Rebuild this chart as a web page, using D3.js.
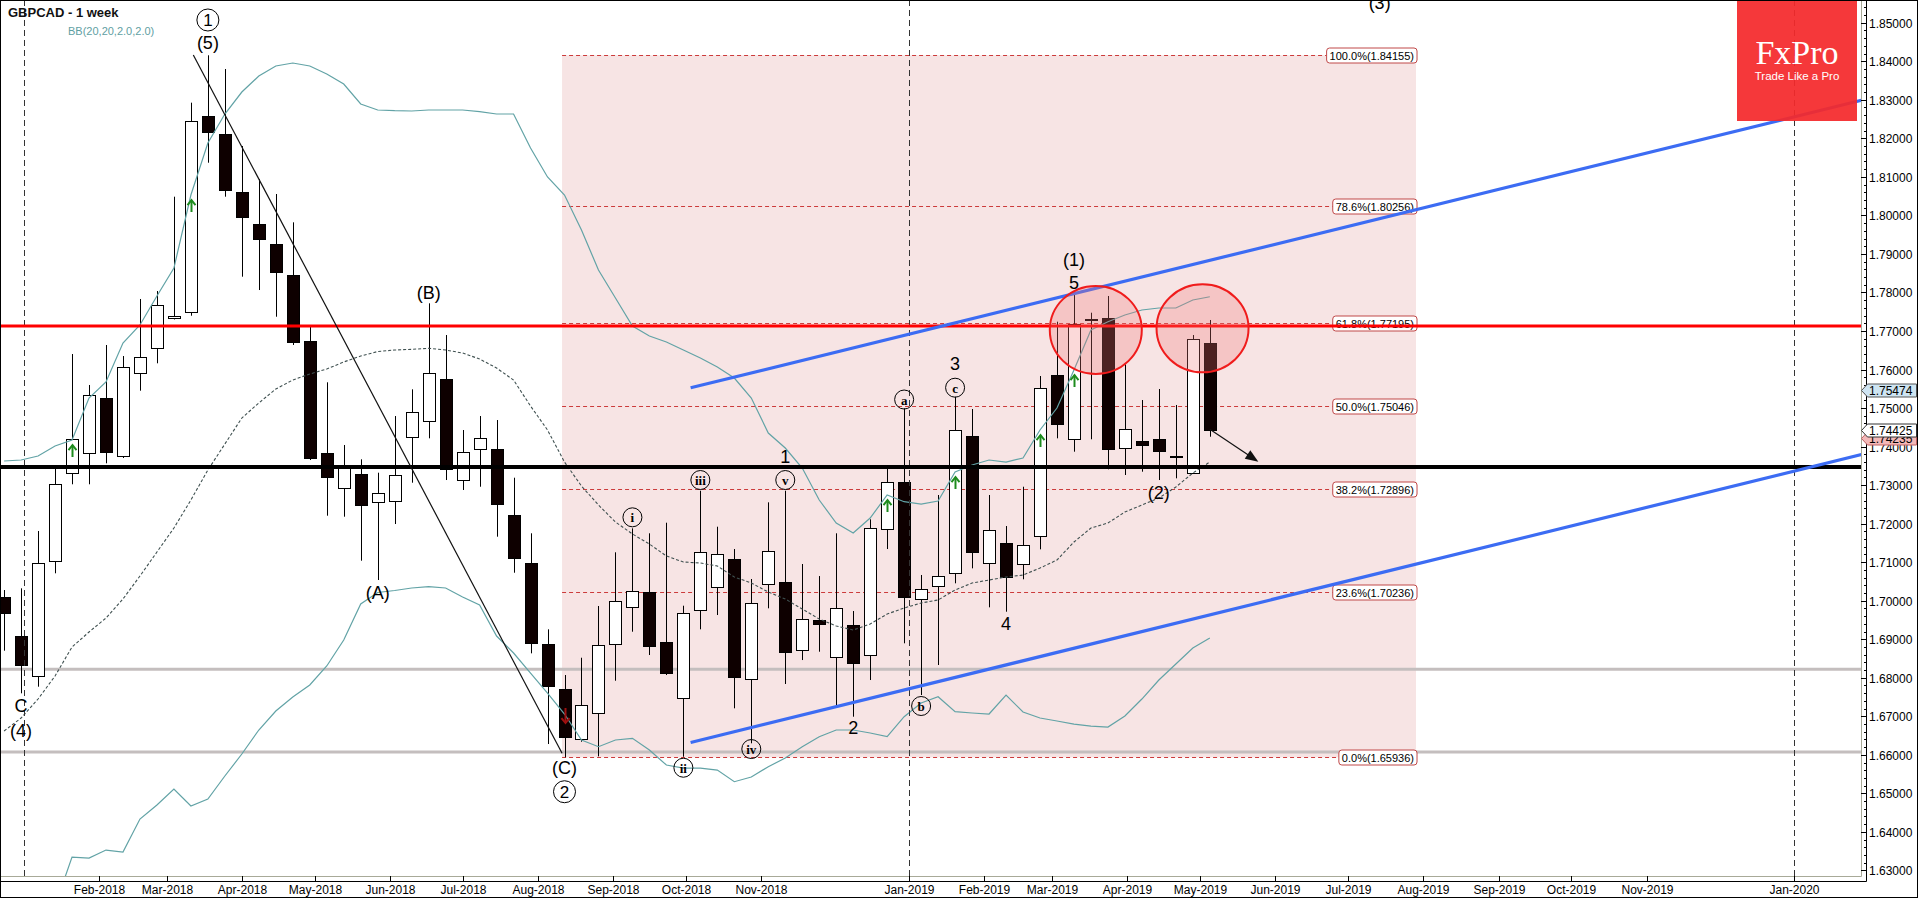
<!DOCTYPE html>
<html><head><meta charset="utf-8">
<script src="https://cdnjs.cloudflare.com/ajax/libs/d3/7.8.5/d3.min.js"></script>
<style>
body{margin:0;background:#fff;}
svg{display:block;}
text{font-family:Arial,"Liberation Sans",sans-serif;}
</style>
</head><body>
<svg id="chart" width="1918" height="898"></svg>
<script>
// ---------------- DATA ----------------
const weeks = ["2017-12-24","2017-12-31","2018-01-07","2018-01-14","2018-01-21","2018-01-28","2018-02-04","2018-02-11","2018-02-18","2018-02-25",
"2018-03-04","2018-03-11","2018-03-18","2018-03-25","2018-04-01","2018-04-08","2018-04-15","2018-04-22","2018-04-29","2018-05-06",
"2018-05-13","2018-05-20","2018-05-27","2018-06-03","2018-06-10","2018-06-17","2018-06-24","2018-07-01","2018-07-08","2018-07-15",
"2018-07-22","2018-07-29","2018-08-05","2018-08-12","2018-08-19","2018-08-26","2018-09-02","2018-09-09","2018-09-16","2018-09-23",
"2018-09-30","2018-10-07","2018-10-14","2018-10-21","2018-10-28","2018-11-04","2018-11-11","2018-11-18","2018-11-25","2018-12-02",
"2018-12-09","2018-12-16","2018-12-23","2018-12-30","2019-01-06","2019-01-13","2019-01-20","2019-01-27","2019-02-03","2019-02-10",
"2019-02-17","2019-02-24","2019-03-03","2019-03-10","2019-03-17","2019-03-24","2019-03-31","2019-04-07","2019-04-14","2019-04-21",
"2019-04-28","2019-05-05"];

const opens = [1.70096,1.69083,1.68045,1.71012,1.73306,1.73825,1.75253,1.73737,1.75901,1.76550,
1.77329,1.77485,1.82579,1.82112,1.80607,1.79776,1.79257,1.78453,1.76740,1.73825,
1.72917,1.73280,1.72553,1.72569,1.74256,1.74645,1.75746,1.73150,1.73955,1.73929,
1.72216,1.70970,1.68868,1.67700,1.66402,1.67077,1.68868,1.69844,1.70233,1.68935,
1.67466,1.69758,1.70347,1.71074,1.67960,1.70451,1.70477,1.68738,1.69499,1.68557,
1.69361,1.68572,1.71853,1.73072,1.70036,1.70381,1.70711,1.74274,1.70970,1.71505,
1.70944,1.71679,1.75857,1.74189,1.77303,1.77329,1.73955,1.74152,1.74196,1.73755,
1.73306,1.76680];
const highs = [1.70277,1.70321,1.71809,1.73436,1.76402,1.75598,1.76636,1.76350,1.77830,1.78037,
1.80485,1.82925,1.84155,1.83799,1.81801,1.80944,1.80555,1.79820,1.77111,1.75668,
1.74041,1.73669,1.73322,1.74793,1.75486,1.77718,1.76895,1.74430,1.74793,1.74689,
1.73192,1.71749,1.69257,1.68071,1.68520,1.69862,1.71256,1.71878,1.71749,1.72024,
1.69870,1.72854,1.71920,1.71341,1.70563,1.72553,1.72854,1.70952,1.70640,1.71749,
1.69732,1.72112,1.73436,1.74993,1.70667,1.72743,1.75294,1.74975,1.72743,1.71938,
1.72958,1.75831,1.77241,1.77952,1.77474,1.77908,1.76135,1.75208,1.75494,1.75079,
1.76895,1.77285];
const lows = [1.68702,1.67596,1.67768,1.70711,1.73021,1.73021,1.73566,1.73703,1.75450,1.76161,
1.77298,1.77396,1.81367,1.80485,1.78409,1.78063,1.77370,1.76636,1.73651,1.72206,
1.72180,1.71038,1.70537,1.71990,1.73062,1.74214,1.73132,1.72873,1.72958,1.71661,
1.70726,1.68634,1.66280,1.65936,1.66340,1.65960,1.67923,1.69195,1.68590,1.68071,
1.65950,1.69257,1.69628,1.67207,1.66299,1.69802,1.67838,1.68460,1.68676,1.67248,
1.66989,1.67941,1.71341,1.68894,1.67552,1.68331,1.70451,1.70840,1.69828,1.69714,
1.70555,1.71333,1.74214,1.73867,1.74189,1.73410,1.73262,1.73348,1.73132,1.73176,
1.73288,1.74256];
const closes = [1.69680,1.68331,1.70970,1.73021,1.74189,1.75338,1.73851,1.76057,1.76317,1.77666,
1.77389,1.82450,1.82172,1.80659,1.79966,1.79395,1.78538,1.76722,1.73695,1.73202,
1.73514,1.72465,1.72787,1.73254,1.74905,1.75901,1.73410,1.73867,1.74230,1.72501,
1.71100,1.68894,1.67785,1.66454,1.67293,1.68850,1.69992,1.70259,1.68832,1.68141,
1.69672,1.71256,1.71204,1.68001,1.69932,1.71297,1.68650,1.69532,1.69387,1.69818,
1.68365,1.71878,1.73072,1.70077,1.70295,1.70648,1.74430,1.71271,1.71834,1.70622,
1.71445,1.75512,1.74578,1.77181,1.77277,1.73929,1.74448,1.74041,1.73893,1.73721,
1.76784,1.74425];

const bbUpper = [1.73625,1.73651,1.73755,1.74015,1.74170,1.75260,1.75676,1.76688,1.77155,1.77908,
1.78634,1.80529,1.81879,1.82631,1.83202,1.83617,1.83877,1.83955,1.83877,1.83669,
1.83410,1.82891,1.82735,1.82717,1.82709,1.82735,1.82735,1.82735,1.82691,1.82631,
1.82631,1.81749,1.80996,1.80529,1.79621,1.78582,1.77856,1.77129,1.76869,1.76714,
1.76506,1.76298,1.76065,1.75779,1.75260,1.74352,1.73963,1.73444,1.72613,1.72016,
1.71757,1.72146,1.72743,1.72569,1.72509,1.72587,1.73340,1.73521,1.73651,1.73599,
1.73703,1.74430,1.75001,1.75987,1.77025,1.77241,1.77414,1.77544,1.77596,1.77596,
1.77804,1.77889];
const bbMiddle = [1.66618,1.66955,1.67448,1.68045,1.68798,1.69187,1.69550,1.70044,1.70640,1.71263,
1.71886,1.72613,1.73392,1.74066,1.74741,1.75131,1.75494,1.75727,1.75883,1.76013,
1.76195,1.76350,1.76467,1.76506,1.76524,1.76550,1.76506,1.76428,1.76273,1.76039,
1.75727,1.75053,1.74430,1.73599,1.72976,1.72483,1.72042,1.71731,1.71471,1.71160,
1.71004,1.70978,1.70900,1.70615,1.70459,1.70225,1.70044,1.69784,1.69524,1.69343,
1.69239,1.69395,1.69654,1.69810,1.69940,1.70018,1.70277,1.70459,1.70537,1.70615,
1.70666,1.70848,1.71056,1.71523,1.71886,1.72016,1.72302,1.72483,1.72665,1.72950,
1.73314,1.73599];
const bbLower = [null,null,null,1.62076,1.63347,1.63321,1.63529,1.63477,1.64334,1.64697,
1.65112,1.64671,1.64853,1.65450,1.66021,1.66644,1.67137,1.67500,1.67812,1.68305,
1.68979,1.69914,1.70212,1.70264,1.70329,1.70363,1.70329,1.70095,1.69888,1.69083,
1.68642,1.68123,1.67604,1.67059,1.66384,1.66210,1.66384,1.66428,1.66124,1.65735,
1.65657,1.65657,1.65605,1.65302,1.65424,1.65691,1.65917,1.66210,1.66470,1.66644,
1.66644,1.66566,1.66470,1.66989,1.67344,1.67508,1.67119,1.67085,1.67059,1.67552,
1.67111,1.66955,1.66877,1.66799,1.66747,1.66721,1.67007,1.67448,1.67941,1.68357,
1.68772,1.69031];

const upSignals = [4, 11, 52, 56, 61, 63];
const downSignals = [33];

const fibStart = "2018-08-11", fibEnd = "2019-07-29";
const fibLevels = [1.84155, 1.80256, 1.77195, 1.75046, 1.72896, 1.70236, 1.65936];
const fibNames  = ["100.0%", "78.6%", "61.8%", "50.0%", "38.2%", "23.6%", "0.0%"];

const redLevel = 1.7713, blackLevel = 1.7347;
const grayLevels = [1.6822, 1.6607];

const upperChannel = [{d:"2018-10-03", p:1.75525}, {d:"2019-07-28", p:1.80132}];
const lowerChannel = [{d:"2018-10-03", p:1.66320}, {d:"2019-07-28", p:1.70934}];
const waveLine = [{d:"2018-03-12", p:1.84163}, {d:"2018-08-11", p:1.66039}];
const forecastArrow = [{d:"2019-05-05", p:1.74448}, {d:"2019-05-25", p:1.73607}];
const highlightCircles = [{d:"2019-03-19", p:1.77025}, {d:"2019-05-02", p:1.77069}];

const waveLabels = [
 {d:"2018-03-18", p:1.84474, t:"(5)"},
 {d:"2018-06-17", p:1.77985, t:"(B)"},
 {d:"2018-05-27", p:1.70199, t:"(A)"},
 {d:"2017-12-31", p:1.67267, t:"C"},
 {d:"2017-12-31", p:1.66618, t:"(4)"},
 {d:"2018-08-12", p:1.65657, t:"(C)"},
 {d:"2018-11-11", p:1.73729, t:"1"},
 {d:"2018-12-09", p:1.66688, t:"2"},
 {d:"2019-01-20", p:1.76143, t:"3"},
 {d:"2019-02-10", p:1.69395, t:"4"},
 {d:"2019-03-10", p:1.78842, t:"(1)"},
 {d:"2019-03-10", p:1.78253, t:"5"},
 {d:"2019-04-14", p:1.72787, t:"(2)"},
 {d:"2019-07-14", p:1.85500, t:"(3)"}
];
const circledBig = [
 {d:"2018-03-18", p:1.85071, t:"1"},
 {d:"2018-08-12", p:1.65042, t:"2"}
];
const circledSmall = [
 {d:"2018-09-09", p:1.72164, t:"i"},
 {d:"2018-09-30", p:1.65665, t:"ii"},
 {d:"2018-10-07", p:1.73132, t:"iii"},
 {d:"2018-10-28", p:1.66150, t:"iv"},
 {d:"2018-11-11", p:1.73132, t:"v"},
 {d:"2018-12-30", p:1.75221, t:"a"},
 {d:"2019-01-06", p:1.67267, t:"b"},
 {d:"2019-01-20", p:1.75528, t:"c"}
];

const yTicks = [1.63,1.64,1.65,1.66,1.67,1.68,1.69,1.70,1.71,1.72,1.73,1.74,1.75,1.76,1.77,1.78,1.79,1.80,1.81,1.82,1.83,1.84,1.85];
const monthTicks = ["2018-02-01","2018-03-01","2018-04-01","2018-05-01","2018-06-01","2018-07-01","2018-08-01","2018-09-01","2018-10-01","2018-11-01",
"2019-01-01","2019-02-01","2019-03-01","2019-04-01","2019-05-01","2019-06-01","2019-07-01","2019-08-01","2019-09-01","2019-10-01","2019-11-01","2020-01-01"];
const yearLines = ["2018-01-01","2019-01-01","2020-01-01"];
const priceTags = [
 {v:1.75474, fill:"#cfe5f2", stroke:"#555"},
 {v:1.74235, fill:"#f3b8b8", stroke:"#c06060"},
 {v:1.74425, fill:"#ffffff", stroke:"#333"}
];

// ---------------- LAYOUT ----------------
const PR = 1861, PB = 876;
const parse = d3.utcParse("%Y-%m-%d");
const x = d3.scaleUtc()
  .domain([new Date(Date.UTC(2017,11,22,7,30)), new Date(Date.UTC(2020,0,28,10,0))])
  .range([0, PR]);
const y = d3.scaleLinear().domain([1.62855, 1.85538]).range([PB, 2]);

const svg = d3.select("#chart");
svg.append("rect").attr("width",1918).attr("height",898).attr("fill","#fff");
const defs = svg.append("defs");
defs.append("clipPath").attr("id","pc")
  .append("rect").attr("x",0).attr("y",0).attr("width",PR).attr("height",PB);
const g = svg.append("g").attr("clip-path","url(#pc)");

// Fibonacci rectangle
const fx0 = x(parse(fibStart)), fx1 = x(parse(fibEnd));
g.append("rect").attr("x",fx0).attr("y",y(fibLevels[0]))
  .attr("width",fx1-fx0).attr("height",y(fibLevels[6])-y(fibLevels[0]))
  .attr("fill","#f7e4e4");

// gray horizontal lines
grayLevels.forEach(v=>{
  g.append("line").attr("x1",0).attr("x2",PR).attr("y1",y(v)).attr("y2",y(v))
   .attr("stroke","#c4bebe").attr("stroke-width",3);
});

// Fib dashed lines + labels
const fibG = g.append("g");
fibLevels.forEach((v,i)=>{
  const yy = Math.round(y(v))+0.5;
  const label = fibG.append("text").attr("font-size",11).attr("fill","#000")
    .attr("dominant-baseline","central").attr("y",yy)
    .text(fibNames[i]+"("+v.toFixed(5)+")");
  const tw = label.node().getComputedTextLength();
  const bx = fx1 + 1 - tw - 6;
  label.attr("x", bx+3);
  fibG.insert("line","text").attr("x1",fx0).attr("x2",bx).attr("y1",yy).attr("y2",yy)
    .attr("stroke","#cc3b3b").attr("stroke-dasharray","4,3").attr("stroke-width",1);
  fibG.insert("rect","text").attr("x",bx).attr("y",yy-7.5).attr("width",tw+6).attr("height",15)
    .attr("rx",3).attr("fill","#fff").attr("stroke","#c04848");
});

// Candles
const candles = weeks.map((w,i)=>({date:parse(w),o:opens[i],h:highs[i],l:lows[i],c:closes[i]}));
const cg = g.append("g");
candles.forEach(d=>{
  const cx = Math.round(x(d.date));
  cg.append("line").attr("x1",cx+0.5).attr("x2",cx+0.5).attr("y1",y(d.h)).attr("y2",y(d.l))
    .attr("stroke","#000").attr("stroke-width",1);
  const top = y(Math.max(d.o,d.c)), bot = y(Math.min(d.o,d.c));
  cg.append("rect").attr("x",cx-5.5).attr("y",Math.round(top)+0.5)
    .attr("width",12).attr("height",Math.max(Math.round(bot-top),1))
    .attr("fill", d.c>=d.o ? "#fff" : "#0e0000").attr("stroke","#000").attr("stroke-width",1);
});

// Bollinger bands
const bbLine = d3.line().defined(d=>d.v!=null).x(d=>x(d.date)).y(d=>y(d.v));
const mk = arr => arr.map((v,i)=>({date:parse(weeks[i]), v}));
g.append("path").attr("d",bbLine(mk(bbUpper))).attr("fill","none").attr("stroke","#62a3a6").attr("stroke-width",1.2);
g.append("path").attr("d",bbLine(mk(bbLower))).attr("fill","none").attr("stroke","#62a3a6").attr("stroke-width",1.2);
g.append("path").attr("d",bbLine(mk(bbMiddle))).attr("fill","none").attr("stroke","#3f5050").attr("stroke-width",1.1).attr("stroke-dasharray","3,2");

// BB signal arrows
function arrow(cx, y1, y2, color){
  const dir = y2 > y1 ? 1 : -1;
  g.append("line").attr("x1",cx).attr("x2",cx).attr("y1",y1).attr("y2",y2).attr("stroke",color).attr("stroke-width",2);
  g.append("path").attr("d",`M${cx-4},${y2-dir*5}L${cx},${y2}L${cx+4},${y2-dir*5}`)
    .attr("fill","none").attr("stroke",color).attr("stroke-width",2);
}
upSignals.forEach(i=>{
  const cx = Math.round(x(parse(weeks[i])))+0.5, by = y(bbUpper[i]);
  arrow(cx, by+17, by+5, "#1e8c1e");
});
downSignals.forEach(i=>{
  const cx = Math.round(x(parse(weeks[i])))+0.5, by = y(bbLower[i]);
  arrow(cx, by-6, by+9, "#a01010");
});

// vertical dashed year lines
yearLines.forEach(s=>{
  const xx = Math.round(x(parse(s)))+0.5;
  g.append("line").attr("x1",xx).attr("x2",xx).attr("y1",0).attr("y2",PB)
   .attr("stroke","#333").attr("stroke-dasharray","6,4");
});

// horizontal key levels
g.append("line").attr("x1",0).attr("x2",PR).attr("y1",y(blackLevel)).attr("y2",y(blackLevel)).attr("stroke","#000").attr("stroke-width",4);
g.append("line").attr("x1",0).attr("x2",PR).attr("y1",y(redLevel)).attr("y2",y(redLevel)).attr("stroke","#ff0000").attr("stroke-width",3);

// wave diagonal
g.append("line")
  .attr("x1",x(parse(waveLine[0].d))).attr("y1",y(waveLine[0].p))
  .attr("x2",x(parse(waveLine[1].d))).attr("y2",y(waveLine[1].p))
  .attr("stroke","#111").attr("stroke-width",1.2);

// channel rays
function ray(pts){
  const x0 = x(parse(pts[0].d)), y0 = y(pts[0].p), x1 = x(parse(pts[1].d)), y1 = y(pts[1].p);
  const k = (y1-y0)/(x1-x0);
  g.append("line").attr("x1",x0).attr("y1",y0).attr("x2",PR+60).attr("y2",y0+k*(PR+60-x0))
   .attr("stroke","#3c6cf3").attr("stroke-width",3.2);
}
ray(upperChannel); ray(lowerChannel);

// red highlight circles
highlightCircles.forEach(c=>{
  g.append("ellipse").attr("cx",x(parse(c.d))).attr("cy",y(c.p)).attr("rx",46).attr("ry",44)
   .attr("fill","rgba(242,120,120,0.28)").attr("stroke","#f01c1c").attr("stroke-width",2);
});

// forecast arrow
{
  const ax0 = x(parse(forecastArrow[0].d)), ay0 = y(forecastArrow[0].p);
  const ax1 = x(parse(forecastArrow[1].d)), ay1 = y(forecastArrow[1].p);
  const ang = Math.atan2(ay1-ay0, ax1-ax0);
  g.append("line").attr("x1",ax0).attr("y1",ay0).attr("x2",ax1-8*Math.cos(ang)).attr("y2",ay1-8*Math.sin(ang))
   .attr("stroke","#111").attr("stroke-width",1.2);
  const L=13, Wd=5;
  const bx = ax1 - L*Math.cos(ang), by = ay1 - L*Math.sin(ang);
  g.append("path").attr("d",`M${ax1},${ay1}L${bx - Wd*Math.sin(ang)},${by + Wd*Math.cos(ang)}L${bx + Wd*Math.sin(ang)},${by - Wd*Math.cos(ang)}Z`)
   .attr("fill","#111");
}

// wave labels
waveLabels.forEach(l=>{
  g.append("text").attr("x",x(parse(l.d))).attr("y",y(l.p)).attr("text-anchor","middle")
   .attr("dominant-baseline","central").attr("font-size",18).attr("fill","#000").text(l.t);
});
circledBig.forEach(l=>{
  const cx = x(parse(l.d)), cy = y(l.p);
  g.append("circle").attr("cx",cx).attr("cy",cy).attr("r",11).attr("fill","none").attr("stroke","#000");
  g.append("text").attr("x",cx).attr("y",cy+1).attr("text-anchor","middle").attr("dominant-baseline","central")
   .attr("font-size",17).text(l.t);
});
circledSmall.forEach(l=>{
  const cx = x(parse(l.d)), cy = y(l.p);
  g.append("circle").attr("cx",cx).attr("cy",cy).attr("r",9.5).attr("fill","none").attr("stroke","#000");
  g.append("text").attr("x",cx).attr("y",cy+0.5).attr("text-anchor","middle").attr("dominant-baseline","central")
   .attr("font-size",13).attr("font-weight","bold").style("font-family","'Liberation Serif','Times New Roman',serif").text(l.t);
});

// FxPro logo
const logo = svg.append("g").attr("opacity",0.93);
logo.append("rect").attr("x",1737).attr("y",0).attr("width",120).attr("height",121).attr("fill","#f52a2c");
logo.append("text").attr("x",1797).attr("y",64).attr("text-anchor","middle").attr("fill","#fff")
  .attr("font-size",34).style("font-family","'Liberation Serif','Times New Roman',serif").text("FxPro");
logo.append("text").attr("x",1797).attr("y",80).attr("text-anchor","middle").attr("fill","#fff")
  .attr("font-size",11.5).text("Trade Like a Pro");

// title
svg.append("text").attr("x",8).attr("y",17).attr("font-size",13).attr("font-weight","bold").attr("fill","#111").text("GBPCAD - 1 week");
svg.append("text").attr("x",68).attr("y",35).attr("font-size",11).attr("fill","#5fa0a3").text("BB(20,20,2.0,2.0)");

// ---------------- AXES ----------------
svg.append("line").attr("x1",PR+0.5).attr("x2",PR+0.5).attr("y1",0).attr("y2",PB+0.5).attr("stroke","#a8aa98");
svg.append("line").attr("x1",0).attr("x2",PR+0.5).attr("y1",PB+0.5).attr("y2",PB+0.5).attr("stroke","#a8aa98");
svg.append("line").attr("x1",PR+5.5).attr("x2",PR+5.5).attr("y1",0).attr("y2",PB+5.5).attr("stroke","#000");
svg.append("line").attr("x1",0).attr("x2",PR+5.5).attr("y1",PB+5.5).attr("y2",PB+5.5).attr("stroke","#000");

const ya = svg.append("g");
d3.range(Math.ceil(1.62855/0.002), Math.floor(1.85538/0.002)+1).forEach(k=>{
  const v = k*0.002, yy = Math.round(y(v))+0.5;
  ya.append("line").attr("x1",PR+3).attr("x2",PR+5).attr("y1",yy).attr("y2",yy).attr("stroke","#000");
});
yTicks.forEach(v=>{
  const yy = Math.round(y(v))+0.5;
  ya.append("line").attr("x1",PR).attr("x2",PR+5).attr("y1",yy).attr("y2",yy).attr("stroke","#000");
  ya.append("text").attr("x",PR+8).attr("y",yy).attr("dominant-baseline","central").attr("font-size",12).attr("fill","#000")
    .text(d3.format(".5f")(v));
});
const xa = svg.append("g");
const fmt = d3.utcFormat("%b-%Y");
monthTicks.forEach(s=>{
  const xx = Math.round(x(parse(s)))+0.5;
  xa.append("line").attr("x1",xx).attr("x2",xx).attr("y1",PB).attr("y2",PB+5).attr("stroke","#000");
  xa.append("text").attr("x",xx).attr("y",PB+14).attr("text-anchor","middle").attr("dominant-baseline","central")
    .attr("font-size",12).attr("fill","#000").text(fmt(parse(s)));
});

// price tags (the pink one sits partly behind the white last-price tag, as in the source)
priceTags.forEach((t,i)=>{
  const yy = Math.round(y(t.v))+0.5;
  svg.append("path").attr("d",`M${PR+0.5},${yy}L${PR+6.5},${yy-6.5}L1916.5,${yy-6.5}L1916.5,${yy+6.5}L${PR+6.5},${yy+6.5}Z`)
    .attr("fill",t.fill).attr("stroke",t.stroke);
  svg.append("text").attr("x",PR+8).attr("y",yy).attr("dominant-baseline","central").attr("font-size",12).attr("fill","#000")
    .text(t.v.toFixed(5));
});

// outer frame
svg.append("rect").attr("x",0.5).attr("y",0.5).attr("width",1917).attr("height",897).attr("fill","none").attr("stroke","#000");
</script>
</body></html>
